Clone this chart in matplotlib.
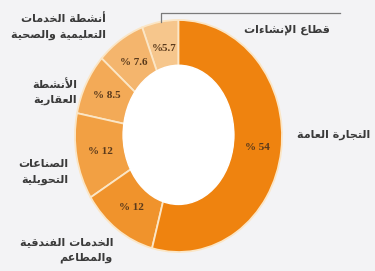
import matplotlib
matplotlib.use('Agg')
import matplotlib.pyplot as plt
from matplotlib.patches import Ellipse

# Data (counter-clockwise from the top)
sectors = ['قطاع الإنشاءات',
           'أنشطة الخدمات\nالتعليمية والصحية',
           'الأنشطة\nالعقارية',
           'الصناعات\nالتحويلية',
           'الخدمات الفندقية\nوالمطاعم',
           'التجارة العامة']
shares = [5.7, 7.6, 8.5, 12, 12, 54]
pct_labels = ['%5.7', '% 7.6', '% 8.5', '% 12', '% 12', '% 54']
colors = ['#f6c68c', '#f4b56d', '#f3aa57', '#f2a043', '#f0932c', '#ef830f']

# minimal arabic shaping (matplotlib has no bidi / joining support)
DUAL = {'ئ': 0xFE89, 'ب': 0xFE8F, 'ت': 0xFE95, 'ث': 0xFE99, 'ج': 0xFE9D, 'ح': 0xFEA1,
        'خ': 0xFEA5, 'س': 0xFEB1, 'ش': 0xFEB5, 'ص': 0xFEB9, 'ض': 0xFEBD, 'ط': 0xFEC1,
        'ظ': 0xFEC5, 'ع': 0xFEC9, 'غ': 0xFECD, 'ف': 0xFED1, 'ق': 0xFED5, 'ك': 0xFED9,
        'ل': 0xFEDD, 'م': 0xFEE1, 'ن': 0xFEE5, 'ه': 0xFEE9, 'ي': 0xFEF1}
RIGHT = {'آ': 0xFE81, 'أ': 0xFE83, 'ؤ': 0xFE85, 'إ': 0xFE87, 'ا': 0xFE8D, 'ة': 0xFE93,
         'د': 0xFEA9, 'ذ': 0xFEAB, 'ر': 0xFEAD, 'ز': 0xFEAF, 'و': 0xFEED, 'ى': 0xFEEF}
LAMALEF = {'آ': 0xFEF5, 'أ': 0xFEF7, 'إ': 0xFEF9, 'ا': 0xFEFB}


def shape_line(s):
    items = []  # (base code or None, joining type)
    i = 0
    while i < len(s):
        c = s[i]
        if c == 'ل' and i + 1 < len(s) and s[i + 1] in LAMALEF:
            items.append((LAMALEF[s[i + 1]], 'R'))
            i += 2
            continue
        if c in DUAL:
            items.append((DUAL[c], 'D'))
        elif c in RIGHT:
            items.append((RIGHT[c], 'R'))
        elif c == 'ء':
            items.append((0xFE80, 'U'))
        else:
            items.append((c, None))
        i += 1
    out = []
    for k, (b, t) in enumerate(items):
        if t is None:
            out.append(b)
            continue
        if t == 'U':
            out.append(chr(b))
            continue
        prev = k > 0 and items[k - 1][1] == 'D'
        nxt = t == 'D' and k + 1 < len(items) and items[k + 1][1] in ('D', 'R')
        if prev and nxt:
            off = 3
        elif nxt:
            off = 2
        elif prev:
            off = 1
        else:
            off = 0
        out.append(chr(b + off))
    return ''.join(out)[::-1]


def ar(s):
    return '\n'.join(shape_line(x) for x in s.split('\n'))


fig = plt.figure(figsize=(3.75, 2.71), dpi=100)
fig.patch.set_facecolor('#f3f3f5')
ax = fig.add_axes([75 / 375, 19 / 271, 207 / 375, 232 / 271])
ax.set_facecolor('none')

wedges, texts = ax.pie(shares, colors=colors, startangle=90, counterclock=True,
                       labels=pct_labels, labeldistance=0.77,
                       wedgeprops=dict(width=0.47, edgecolor='#fbe6c6', linewidth=1.3),
                       textprops=dict(family='Liberation Serif', fontweight='bold',
                                      fontsize=8, color='#5a3a1c', zorder=4))
for t in texts:
    t.set_ha('center')
    t.set_va('center')
# the hole is a bit taller than the ring suggests
ax.add_patch(Ellipse((0, 0.01), 1.07, 1.2, color='white', zorder=2))
ax.set_aspect('auto')
ax.set_xlim(-1, 1)
ax.set_ylim(-1, 1)
ax.axis('off')

# leader line to the construction label
ax.plot([-0.17, -0.17, 1.56], [0.98, 1.06, 1.06], color='#7a7a7a', lw=0.9,
        clip_on=False)

lab_kw = dict(family='DejaVu Sans', fontweight='bold', fontsize=8, color='#3a3a3a',
              ha='right', va='center', linespacing=1.6)
fig.text(330 / 375, 1 - 30 / 271, ar(sectors[0]), **lab_kw)
fig.text(106 / 375, 1 - 27 / 271, ar(sectors[1]), **lab_kw)
fig.text(77 / 375, 1 - 92 / 271, ar(sectors[2]), **lab_kw)
fig.text(68 / 375, 1 - 172 / 271, ar(sectors[3]), **lab_kw)
fig.text(113 / 375, 1 - 250 / 271, ar(sectors[4]), **lab_kw)
fig.text(297 / 375, 1 - 135 / 271, ar(sectors[5]), **dict(lab_kw, ha='left'))

fig.savefig('out.png', dpi=100, facecolor=fig.get_facecolor())
